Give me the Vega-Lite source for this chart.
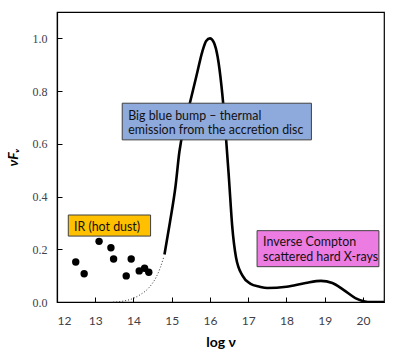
{
  "$schema": "https://vega.github.io/schema/vega-lite/v6.json",
  "width": 327,
  "height": 290,
  "autosize": {"type": "none"},
  "padding": {"left": 57, "top": 12, "right": 15, "bottom": 58},
  "background": "white",
  "config": {
    "view": {"stroke": "black", "strokeWidth": 1.2},
    "axis": {"grid": false, "domainColor": "black", "domainWidth": 1.2, "tickColor": "black", "tickWidth": 1, "labelColor": "#404048", "titleColor": "black"}
  },
  "datasets": {
    "curve": [
      {"x": 14.81, "y": 0.18}, {"x": 14.95, "y": 0.3}, {"x": 15.1, "y": 0.44}, {"x": 15.2, "y": 0.57},
      {"x": 15.35, "y": 0.68}, {"x": 15.5, "y": 0.77}, {"x": 15.65, "y": 0.86}, {"x": 15.8, "y": 0.95},
      {"x": 15.9, "y": 0.99}, {"x": 16.0, "y": 1.0}, {"x": 16.1, "y": 0.985}, {"x": 16.2, "y": 0.93},
      {"x": 16.3, "y": 0.82}, {"x": 16.4, "y": 0.66}, {"x": 16.5, "y": 0.46}, {"x": 16.58, "y": 0.29},
      {"x": 16.68, "y": 0.17}, {"x": 16.85, "y": 0.1}, {"x": 17.05, "y": 0.07}, {"x": 17.3, "y": 0.058},
      {"x": 17.5, "y": 0.053}, {"x": 18.0, "y": 0.058}, {"x": 18.5, "y": 0.072}, {"x": 18.9, "y": 0.08},
      {"x": 19.2, "y": 0.072}, {"x": 19.5, "y": 0.045}, {"x": 19.8, "y": 0.015}, {"x": 20.05, "y": 0.002},
      {"x": 20.2, "y": 0}, {"x": 20.55, "y": 0}
    ],
    "dotted": [
      {"x": 13.47, "y": 0}, {"x": 13.75, "y": 0.004}, {"x": 14.0, "y": 0.014}, {"x": 14.2, "y": 0.03},
      {"x": 14.34, "y": 0.045}, {"x": 14.5, "y": 0.072}, {"x": 14.6, "y": 0.096}, {"x": 14.7, "y": 0.13},
      {"x": 14.79, "y": 0.17}
    ],
    "points": [
      {"x": 12.49, "y": 0.152}, {"x": 12.71, "y": 0.107}, {"x": 13.1, "y": 0.23}, {"x": 13.41, "y": 0.206},
      {"x": 13.48, "y": 0.163}, {"x": 13.94, "y": 0.163}, {"x": 13.81, "y": 0.099}, {"x": 14.15, "y": 0.118},
      {"x": 14.29, "y": 0.128}, {"x": 14.4, "y": 0.113}
    ],
    "boxes": [
      {"box": "blue", "x": 13.705, "x2": 18.652, "y": 0.754, "y2": 0.615},
      {"box": "orange", "x": 12.295, "x2": 14.447, "y": 0.33, "y2": 0.25},
      {"box": "magenta", "x": 17.231, "x2": 20.417, "y": 0.2706, "y2": 0.134}
    ],
    "labels": [
      {"x": 13.862, "y": 0.707, "label": "Big blue bump – thermal"},
      {"x": 13.862, "y": 0.653, "label": "emission from the accretion disc"},
      {"x": 12.444, "y": 0.286, "label": "IR (hot dust)"},
      {"x": 17.388, "y": 0.229, "label": "Inverse Compton"},
      {"x": 17.388, "y": 0.172, "label": "scattered hard X-rays"}
    ]
  },
  "layer": [
    {
      "data": {"name": "curve"},
      "mark": {"type": "line", "color": "black", "strokeWidth": 2.6, "interpolate": "monotone", "clip": true},
      "encoding": {
        "x": {"field": "x", "type": "quantitative", "scale": {"domain": [12, 20.55], "nice": false},
          "axis": {"values": [12, 13, 14, 15, 16, 17, 18, 19, 20], "title": "log ν", "tickSize": -5, "labelPadding": 18,
            "labelFont": "Lato", "labelFontSize": 12, "titleFont": "Lato", "titleFontSize": 14, "titleFontWeight": "bold", "titlePadding": 9}},
        "y": {"field": "y", "type": "quantitative", "scale": {"domain": [0, 1.1], "nice": false},
          "axis": {"values": [0, 0.2, 0.4, 0.6, 0.8, 1.0], "format": ".1f", "title": "νFᵥ", "tickSize": -5, "labelPadding": 15,
            "labelFont": "Liberation Serif", "labelFontSize": 12, "titleFont": "Lato", "titleFontSize": 14, "titleFontWeight": "bold", "titleFontStyle": "italic", "titlePadding": 12}}
      }
    },
    {
      "data": {"name": "dotted"},
      "mark": {"type": "line", "color": "#333333", "strokeWidth": 1, "strokeDash": [1, 2], "interpolate": "monotone"},
      "encoding": {"x": {"field": "x", "type": "quantitative"}, "y": {"field": "y", "type": "quantitative"}}
    },
    {
      "data": {"name": "points"},
      "mark": {"type": "point", "filled": true, "color": "black", "opacity": 1, "size": 55},
      "encoding": {"x": {"field": "x", "type": "quantitative"}, "y": {"field": "y", "type": "quantitative"}}
    },
    {
      "data": {"name": "boxes"},
      "mark": {"type": "rect", "stroke": "#404040", "strokeWidth": 1},
      "encoding": {
        "x": {"field": "x", "type": "quantitative"}, "x2": {"field": "x2"},
        "y": {"field": "y", "type": "quantitative"}, "y2": {"field": "y2"},
        "fill": {"field": "box", "type": "nominal", "legend": null,
          "scale": {"domain": ["blue", "orange", "magenta"], "range": ["#8EA9DB", "#FFC000", "#EC7BE2"]}}
      }
    },
    {
      "data": {"name": "labels"},
      "mark": {"type": "text", "align": "left", "baseline": "middle", "font": "Lato", "fontSize": 12.4, "color": "#111111"},
      "encoding": {"x": {"field": "x", "type": "quantitative"}, "y": {"field": "y", "type": "quantitative"}, "text": {"field": "label"}}
    }
  ]
}
